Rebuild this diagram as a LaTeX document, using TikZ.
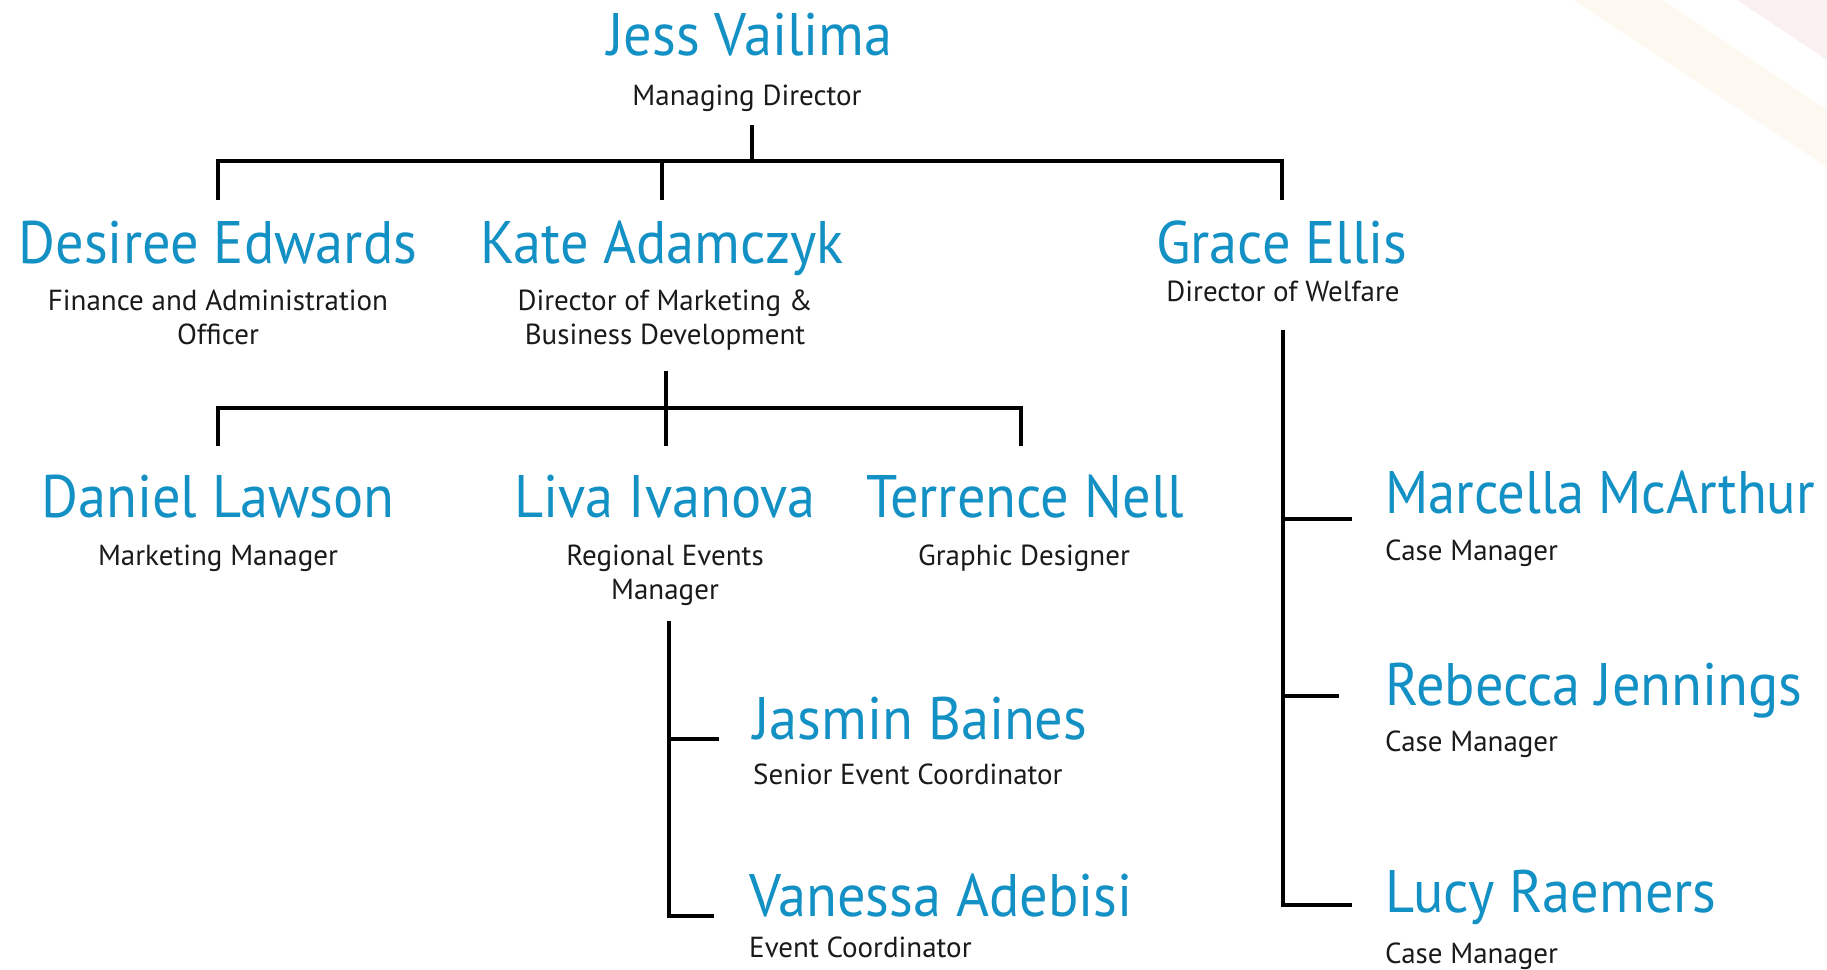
\documentclass[tikz,border=0pt]{standalone}
\usepackage{fontspec}
\setmainfont{PT Sans}
\newfontfamily\namefont[FakeStretch=0.94]{PT Sans}
\newfontfamily\namefontnarrow[FakeStretch=0.91]{PT Sans}
\newfontfamily\rolefont{PT Sans}
\definecolor{nameblue}{HTML}{1390C4}
\definecolor{roleblack}{HTML}{1A1A1A}
\definecolor{stripebeige}{HTML}{FDF9F0}
\definecolor{stripepink}{HTML}{FBF0F0}
\tikzset{
  person/.style={inner sep=0pt, text=nameblue, font=\namefont\fontsize{60}{62}\selectfont},
  narrowperson/.style={person, font=\namefontnarrow\fontsize{60}{62}\selectfont},
  role/.style={inner sep=0pt, text=roleblack, font=\rolefont\fontsize{29}{34}\selectfont, align=center},
  lrole/.style={role, align=left},
  link/.style={draw=black, line width=4.5pt, line join=miter},
}
\begin{document}
\begin{tikzpicture}[x=1pt,y=-1pt]
\useasboundingbox (0,0) rectangle (1827,969);
% faint background stripes
\fill[stripebeige] (1573,0) -- (1663,0) -- (1827,110) -- (1827,167) -- cycle;
\fill[stripepink] (1737,0) -- (1827,0) -- (1827,60) -- cycle;

% level 0
\node[person, anchor=base] (jess) at (750,55) {Jess Vailima};
\node[role, anchor=base] (jessR) at (747,105) {Managing Director};

% level 1 (two-line roles: base = baseline of the last line)
\node[person, anchor=base] (desiree) at (218,263) {Desiree Edwards};
\node[role, anchor=base] (desireeR) at (218,344) {Finance and Administration\\Officer};
\node[person, anchor=base] (kate) at (662,263) {Kate Adamczyk};
\node[role, anchor=base] (kateR) at (665,344) {Director of Marketing \&\\Business Development};
\node[person, anchor=base] (grace) at (1282,263) {Grace Ellis};
\node[role, anchor=base] (graceR) at (1283,301) {Director of Welfare};

% level 2 (marketing)
\node[person, anchor=base] (daniel) at (218,517) {Daniel Lawson};
\node[role, anchor=base] (danielR) at (218,565) {Marketing Manager};
\node[person, anchor=base] (liva) at (665,517) {Liva Ivanova};
\node[role, anchor=base] (livaR) at (665,599) {Regional Events\\Manager};
\node[person, anchor=base] (terrence) at (1025,517) {Terrence Nell};
\node[role, anchor=base] (terrenceR) at (1024,565) {Graphic Designer};

% level 3 (events)
\node[person, anchor=base west] (jasmin) at (753,739) {Jasmin Baines};
\node[lrole, anchor=base west] (jasminR) at (753,784) {Senior Event Coordinator};
\node[person, anchor=base west] (vanessa) at (749,916) {Vanessa Adebisi};
\node[lrole, anchor=base west] (vanessaR) at (749,957) {Event Coordinator};

% welfare
\node[narrowperson, anchor=base west] (marcella) at (1385,513) {Marcella McArthur};
\node[lrole, anchor=base west] (marcellaR) at (1385,560) {Case Manager};
\node[person, anchor=base west] (rebecca) at (1385,705) {Rebecca Jennings};
\node[lrole, anchor=base west] (rebeccaR) at (1385,751) {Case Manager};
\node[person, anchor=base west] (lucy) at (1385,912) {Lucy Raemers};
\node[lrole, anchor=base west] (lucyR) at (1385,963) {Case Manager};

% junction coordinates
\coordinate (busA) at (752,161);
\coordinate (busB) at (666,408);

% connectors
\draw[link] (busA |- 0,125) -- (busA);
\draw[link] (desiree.north |- 0,200) -- (desiree.north |- busA) -- (grace.north |- busA) -- (grace.north |- 0,200);
\draw[link] (kate.north |- busA) -- (kate.north |- 0,200);

\draw[link] (busB |- 0,371) -- (busB);
\draw[link] (daniel.north |- 0,446) -- (daniel.north |- busB) -- (1021,408) -- (1021,446);
\draw[link] (busB) -- (666,446);

\draw[link] (669,621) -- (669,916) -- (714,916);
\draw[link] (669,739) -- (719,739);

\draw[link] (1283,330) -- (1283,905) -- (1352,905);
\draw[link] (1283,519) -- (1352,519);
\draw[link] (1283,696) -- (1339,696);
\end{tikzpicture}
\end{document}
